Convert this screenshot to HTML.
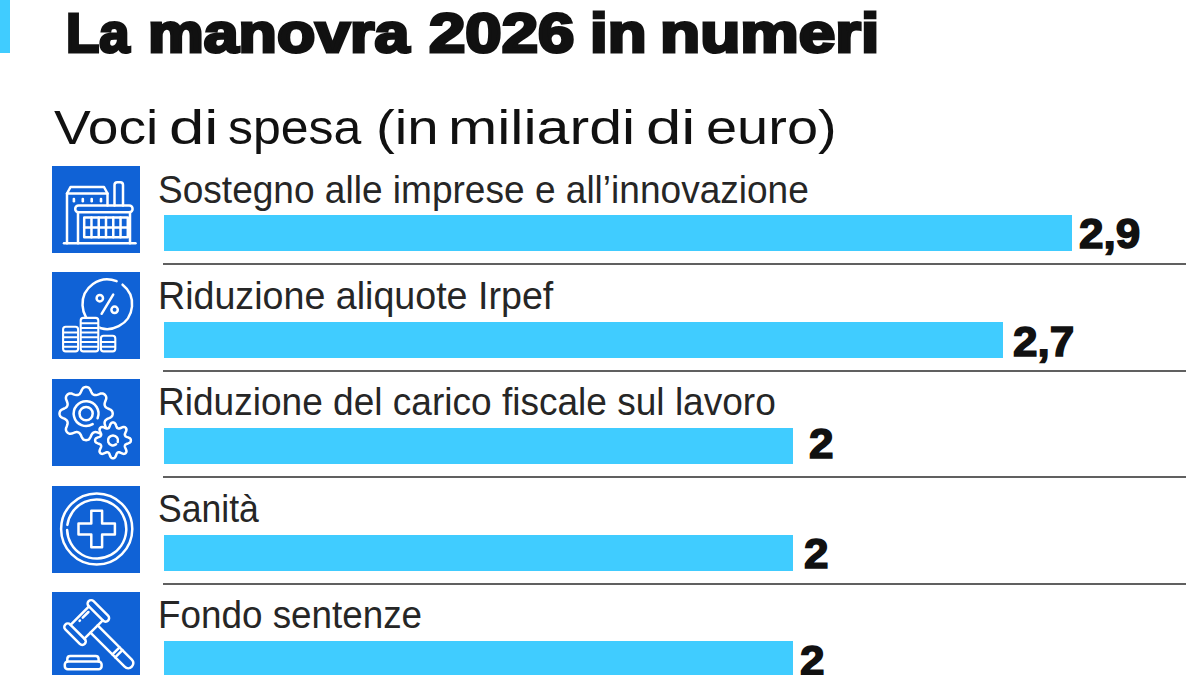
<!DOCTYPE html>
<html><head><meta charset="utf-8">
<style>
html,body{margin:0;padding:0;}
body{width:1200px;height:675px;overflow:hidden;background:#fff;position:relative;font-family:"Liberation Sans",sans-serif;}
.abs{position:absolute;}
#accent{left:0;top:0;width:10px;height:53px;background:#40ccff;}
.tw{font-size:55px;font-weight:bold;color:#111;white-space:nowrap;line-height:1;transform-origin:0 0;-webkit-text-stroke:3px #111;}
.sw{font-size:48.4px;color:#111;white-space:nowrap;line-height:1;transform-origin:0 0;-webkit-text-stroke:0px #111;}
.icon{left:52px;width:88px;height:87px;background:#1062d6;}
.icon svg{position:absolute;left:0;top:0;}
.lbl{left:158px;font-size:38px;color:#262626;white-space:nowrap;line-height:1;transform-origin:0 0;transform:scaleX(0.975);}
.bar{left:164px;height:36px;background:#40ccff;}
.num{font-size:42px;font-weight:bold;color:#111;white-space:nowrap;line-height:1;-webkit-text-stroke:1.5px #111;transform-origin:0 0;transform:scaleX(1.05);}
.rule{left:163px;width:1023px;height:2px;background:#606060;}
</style></head>
<body>
<div id="accent" class="abs"></div>
<div class="abs tw" style="left:65.72px;top:5.5px;transform:scaleX(0.9891)">La</div>
<div class="abs tw" style="left:147.72px;top:5.5px;transform:scaleX(1.1397)">manovra</div>
<div class="abs tw" style="left:429.00px;top:5.5px;transform:scaleX(1.1885)">2026</div>
<div class="abs tw" style="left:589.69px;top:5.5px;transform:scaleX(1.1556)">in</div>
<div class="abs tw" style="left:659.61px;top:5.5px;transform:scaleX(1.1955)">numeri</div>
<div class="abs sw" style="left:53.50px;top:102.5px;transform:scaleX(1.1398)">Voci</div>
<div class="abs sw" style="left:168.68px;top:102.5px;transform:scaleX(1.3125)">di</div>
<div class="abs sw" style="left:227.64px;top:102.5px;transform:scaleX(1.0323)">spesa</div>
<div class="abs sw" style="left:376.00px;top:102.5px;transform:scaleX(1.1660)">(in</div>
<div class="abs sw" style="left:448.14px;top:102.5px;transform:scaleX(1.2211)">miliardi</div>
<div class="abs sw" style="left:646.17px;top:102.5px;transform:scaleX(1.3125)">di</div>
<div class="abs sw" style="left:705.99px;top:102.5px;transform:scaleX(1.1565)">euro)</div>
<div class="abs icon" style="top:166px"><svg viewBox="0 0 88 87" width="88" height="87" fill="none" stroke="#fff" stroke-width="2.5" stroke-linecap="round" stroke-linejoin="round"><path d="M12,77.2 H83.5"/><path d="M15,77.2 V27.5 L18.5,21 H52 L55.5,27.5 V39.5"/><path d="M15,27.5 H55.5"/><rect x="20.6" y="31.8" width="2.6" height="4.6" rx="1.2" fill="#fff" stroke="none"/><rect x="29.5" y="31.8" width="2.6" height="4.6" rx="1.2" fill="#fff" stroke="none"/><rect x="38.4" y="31.8" width="2.6" height="4.6" rx="1.2" fill="#fff" stroke="none"/><rect x="47.7" y="31.8" width="2.6" height="4.6" rx="1.2" fill="#fff" stroke="none"/><path d="M62.5,39.5 V19 Q62.5,16.2 65.3,16.2 H68.3 Q71,16.2 71,19 V39.5"/><rect x="23.2" y="39.5" width="57.4" height="6.8" rx="3.4"/><path d="M26,46.3 V77.2 M78,46.3 V77.2"/><rect x="32.2" y="51.6" width="43.6" height="19.6"/><path d="M39.47,51.6 V71.2"/><path d="M46.73,51.6 V71.2"/><path d="M54.00,51.6 V71.2"/><path d="M61.27,51.6 V71.2"/><path d="M68.53,51.6 V71.2"/><path d="M32.2,61.4 H75.8"/></svg></div>
<div class="abs lbl" style="top:170.6px;transform:scaleX(0.975)">Sostegno alle imprese e all’innovazione</div>
<div class="abs bar" style="top:215px;width:908px"></div>
<div class="abs num" style="left:1079px;top:212.7px">2,9</div>
<div class="abs rule" style="top:263px"></div>
<div class="abs icon" style="top:272px"><svg viewBox="0 0 88 87" width="88" height="87" fill="none" stroke="#fff" stroke-width="2.5" stroke-linecap="round" stroke-linejoin="round"><path d="M70.57,12.66 A24.80,24.80 0 1 1 64.59,9.21"/><circle cx="47.8" cy="26.2" r="3.2"/><circle cx="62.6" cy="37.8" r="3.2"/><path d="M61.2,22.6 L49.6,41.8"/><rect x="47.90" y="62.80" width="16.40" height="17.60" rx="3" fill="#1062d6" stroke="none"/><rect x="48.90" y="63.80" width="14.40" height="15.60" rx="2.6" stroke-width="2.1"/><path d="M49.70,74.70 H62.50" stroke-width="2"/><path d="M49.70,70.00 H62.50" stroke-width="2"/><rect x="10.10" y="53.70" width="17.00" height="26.70" rx="3" fill="#1062d6" stroke="none"/><rect x="11.10" y="54.70" width="15.00" height="24.70" rx="2.6" stroke-width="2.1"/><path d="M11.90,74.70 H25.30" stroke-width="2"/><path d="M11.90,70.00 H25.30" stroke-width="2"/><path d="M11.90,65.30 H25.30" stroke-width="2"/><path d="M11.90,60.60 H25.30" stroke-width="2"/><rect x="27.70" y="44.90" width="19.60" height="35.50" rx="3" fill="#1062d6" stroke="none"/><rect x="28.70" y="45.90" width="17.60" height="33.50" rx="2.6" stroke-width="2.1"/><path d="M29.50,74.70 H45.50" stroke-width="2"/><path d="M29.50,70.00 H45.50" stroke-width="2"/><path d="M29.50,65.30 H45.50" stroke-width="2"/><path d="M29.50,60.60 H45.50" stroke-width="2"/><path d="M29.50,55.90 H45.50" stroke-width="2"/><path d="M29.50,51.20 H45.50" stroke-width="2"/></svg></div>
<div class="abs lbl" style="top:276.6px;transform:scaleX(0.99)">Riduzione aliquote Irpef</div>
<div class="abs bar" style="top:322px;width:839px"></div>
<div class="abs num" style="left:1013px;top:320.6px">2,7</div>
<div class="abs rule" style="top:370px"></div>
<div class="abs icon" style="top:379px"><svg viewBox="0 0 88 87" width="88" height="87" fill="none" stroke="#fff" stroke-width="2.5" stroke-linecap="round" stroke-linejoin="round"><path d="M60.7,34.6 L60.6,35.5 L60.4,36.3 L60.0,37.2 L59.3,37.9 L58.3,38.6 L57.1,39.2 L55.9,39.7 L54.9,40.2 L54.2,40.7 L53.6,41.2 L53.2,41.8 L52.9,42.4 L52.7,43.0 L52.6,43.7 L52.6,44.5 L52.8,45.4 L53.1,46.4 L53.6,47.7 L54.1,48.9 L54.3,50.1 L54.2,51.1 L53.9,52.0 L53.5,52.7 L52.9,53.4 L52.2,54.0 L51.5,54.4 L50.6,54.7 L49.6,54.8 L48.4,54.6 L47.2,54.1 L45.9,53.6 L44.9,53.3 L44.0,53.1 L43.2,53.1 L42.5,53.2 L41.9,53.4 L41.3,53.7 L40.7,54.1 L40.2,54.7 L39.7,55.4 L39.2,56.4 L38.7,57.6 L38.1,58.8 L37.4,59.8 L36.7,60.5 L35.8,60.9 L35.0,61.1 L34.1,61.2 L33.2,61.1 L32.4,60.9 L31.5,60.5 L30.8,59.8 L30.1,58.8 L29.5,57.6 L29.0,56.4 L28.5,55.4 L28.0,54.7 L27.5,54.1 L26.9,53.7 L26.3,53.4 L25.7,53.2 L25.0,53.1 L24.2,53.1 L23.3,53.3 L22.3,53.6 L21.0,54.1 L19.8,54.6 L18.6,54.8 L17.6,54.7 L16.7,54.4 L16.0,54.0 L15.3,53.4 L14.7,52.7 L14.3,52.0 L14.0,51.1 L13.9,50.1 L14.1,48.9 L14.6,47.7 L15.1,46.4 L15.4,45.4 L15.6,44.5 L15.6,43.7 L15.5,43.0 L15.3,42.4 L15.0,41.8 L14.6,41.2 L14.0,40.7 L13.3,40.2 L12.3,39.7 L11.1,39.2 L9.9,38.6 L8.9,37.9 L8.2,37.2 L7.8,36.3 L7.6,35.5 L7.5,34.6 L7.6,33.7 L7.8,32.9 L8.2,32.0 L8.9,31.3 L9.9,30.6 L11.1,30.0 L12.3,29.5 L13.3,29.0 L14.0,28.5 L14.6,28.0 L15.0,27.4 L15.3,26.8 L15.5,26.2 L15.6,25.5 L15.6,24.7 L15.4,23.8 L15.1,22.8 L14.6,21.5 L14.1,20.3 L13.9,19.1 L14.0,18.1 L14.3,17.2 L14.7,16.5 L15.3,15.8 L16.0,15.2 L16.7,14.8 L17.6,14.5 L18.6,14.4 L19.8,14.6 L21.0,15.1 L22.3,15.6 L23.3,15.9 L24.2,16.1 L25.0,16.1 L25.7,16.0 L26.3,15.8 L26.9,15.5 L27.5,15.1 L28.0,14.5 L28.5,13.8 L29.0,12.8 L29.5,11.6 L30.1,10.4 L30.8,9.4 L31.5,8.7 L32.4,8.3 L33.2,8.1 L34.1,8.0 L35.0,8.1 L35.8,8.3 L36.7,8.7 L37.4,9.4 L38.1,10.4 L38.7,11.6 L39.2,12.8 L39.7,13.8 L40.2,14.5 L40.7,15.1 L41.3,15.5 L41.9,15.8 L42.5,16.0 L43.2,16.1 L44.0,16.1 L44.9,15.9 L45.9,15.6 L47.2,15.1 L48.4,14.6 L49.6,14.4 L50.6,14.5 L51.5,14.8 L52.2,15.2 L52.9,15.8 L53.5,16.5 L53.9,17.2 L54.2,18.1 L54.3,19.1 L54.1,20.3 L53.6,21.5 L53.1,22.8 L52.8,23.8 L52.6,24.7 L52.6,25.5 L52.7,26.2 L52.9,26.8 L53.2,27.4 L53.6,28.0 L54.2,28.5 L54.9,29.0 L55.9,29.5 L57.1,30.0 L58.3,30.6 L59.3,31.3 L60.0,32.0 L60.4,32.9 L60.6,33.7 Z"/><path d="M40.67,45.12 A12.40,12.40 0 1 1 45.60,39.25"/><circle cx="34.1" cy="34.6" r="6.6"/><path d="M78.9,61.4 L78.8,62.0 L78.7,62.6 L78.3,63.1 L77.8,63.6 L77.0,64.0 L76.2,64.4 L75.3,64.7 L74.5,65.0 L73.9,65.3 L73.5,65.6 L73.2,66.0 L73.0,66.4 L72.9,66.8 L72.8,67.2 L72.9,67.8 L73.1,68.4 L73.4,69.1 L73.8,70.0 L74.2,70.9 L74.4,71.7 L74.5,72.4 L74.3,73.1 L74.0,73.6 L73.7,74.1 L73.2,74.4 L72.7,74.7 L72.0,74.9 L71.3,74.8 L70.5,74.6 L69.6,74.2 L68.7,73.8 L68.0,73.5 L67.4,73.3 L66.8,73.2 L66.4,73.3 L66.0,73.4 L65.6,73.6 L65.2,73.9 L64.9,74.3 L64.6,74.9 L64.3,75.7 L64.0,76.6 L63.6,77.4 L63.2,78.2 L62.7,78.7 L62.2,79.1 L61.6,79.2 L61.0,79.3 L60.4,79.2 L59.8,79.1 L59.3,78.7 L58.8,78.2 L58.4,77.4 L58.0,76.6 L57.7,75.7 L57.4,74.9 L57.1,74.3 L56.8,73.9 L56.4,73.6 L56.0,73.4 L55.6,73.3 L55.2,73.2 L54.6,73.3 L54.0,73.5 L53.3,73.8 L52.4,74.2 L51.5,74.6 L50.7,74.8 L50.0,74.9 L49.3,74.7 L48.8,74.4 L48.3,74.1 L48.0,73.6 L47.7,73.1 L47.5,72.4 L47.6,71.7 L47.8,70.9 L48.2,70.0 L48.6,69.1 L48.9,68.4 L49.1,67.8 L49.2,67.2 L49.1,66.8 L49.0,66.4 L48.8,66.0 L48.5,65.6 L48.1,65.3 L47.5,65.0 L46.7,64.7 L45.8,64.4 L45.0,64.0 L44.2,63.6 L43.7,63.1 L43.3,62.6 L43.2,62.0 L43.1,61.4 L43.2,60.8 L43.3,60.2 L43.7,59.7 L44.2,59.2 L45.0,58.8 L45.8,58.4 L46.7,58.1 L47.5,57.8 L48.1,57.5 L48.5,57.2 L48.8,56.8 L49.0,56.4 L49.1,56.0 L49.2,55.6 L49.1,55.0 L48.9,54.4 L48.6,53.7 L48.2,52.8 L47.8,51.9 L47.6,51.1 L47.5,50.4 L47.7,49.7 L48.0,49.2 L48.3,48.7 L48.8,48.4 L49.3,48.1 L50.0,47.9 L50.7,48.0 L51.5,48.2 L52.4,48.6 L53.3,49.0 L54.0,49.3 L54.6,49.5 L55.2,49.6 L55.6,49.5 L56.0,49.4 L56.4,49.2 L56.8,48.9 L57.1,48.5 L57.4,47.9 L57.7,47.1 L58.0,46.2 L58.4,45.4 L58.8,44.6 L59.3,44.1 L59.8,43.7 L60.4,43.6 L61.0,43.5 L61.6,43.6 L62.2,43.7 L62.7,44.1 L63.2,44.6 L63.6,45.4 L64.0,46.2 L64.3,47.1 L64.6,47.9 L64.9,48.5 L65.2,48.9 L65.6,49.2 L66.0,49.4 L66.4,49.5 L66.8,49.6 L67.4,49.5 L68.0,49.3 L68.7,49.0 L69.6,48.6 L70.5,48.2 L71.3,48.0 L72.0,47.9 L72.7,48.1 L73.2,48.4 L73.7,48.7 L74.0,49.2 L74.3,49.7 L74.5,50.4 L74.4,51.1 L74.2,51.9 L73.8,52.8 L73.4,53.7 L73.1,54.4 L72.9,55.0 L72.8,55.6 L72.9,56.0 L73.0,56.4 L73.2,56.8 L73.5,57.2 L73.9,57.5 L74.5,57.8 L75.3,58.1 L76.2,58.4 L77.0,58.8 L77.8,59.2 L78.3,59.7 L78.7,60.2 L78.8,60.8 Z" fill="#1062d6"/><path d="M64.08,65.34 A5.00,5.00 0 1 1 65.76,62.95"/></svg></div>
<div class="abs lbl" style="top:383.1px;transform:scaleX(0.975)">Riduzione del carico fiscale sul lavoro</div>
<div class="abs bar" style="top:428px;width:629px"></div>
<div class="abs num" style="left:808.6px;top:422.9px">2</div>
<div class="abs rule" style="top:476px"></div>
<div class="abs icon" style="top:486px"><svg viewBox="0 0 88 87" width="88" height="87" fill="none" stroke="#fff" stroke-width="2.5" stroke-linecap="round" stroke-linejoin="round"><circle cx="44.7" cy="43.0" r="35.6"/><path d="M15.39,38.88 A29.60,29.60 0 1 1 15.12,44.03"/><path d="M39.30,24.80 L50.10,24.80 L50.10,37.60 L62.90,37.60 L62.90,48.40 L50.10,48.40 L50.10,61.20 L39.30,61.20 L39.30,48.40 L26.50,48.40 L26.50,37.60 L39.30,37.60 Z"/></svg></div>
<div class="abs lbl" style="top:489.6px;transform:scaleX(0.936)">Sanità</div>
<div class="abs bar" style="top:535px;width:629px"></div>
<div class="abs num" style="left:803.7px;top:532.5px">2</div>
<div class="abs rule" style="top:583px"></div>
<div class="abs icon" style="top:592px"><svg viewBox="0 0 88 87" width="88" height="87" fill="none" stroke="#fff" stroke-width="2.5" stroke-linecap="round" stroke-linejoin="round"><g transform="translate(35.00 30.60) rotate(45)"><rect x="-14" y="-19.8" width="27.5" height="7" rx="3.5"/><rect x="-14" y="13.2" width="27.5" height="7" rx="3.5"/><path d="M-10,-12.8 V13.2 M9.5,-12.8 V13.2"/><path d="M-6.5,-8.5 V-0.5 M-6.5,3.5 V4"/><path d="M9.5,-5.6 H57.8 A5.1,5.1 0 0 1 57.8,4.6 H9.5"/><path d="M40.5,-5.6 V4.6 M44.5,-5.6 V4.6"/></g><path d="M15.3,69.5 V67 Q15.3,64 18.3,64 H43.6 Q46.6,64 46.6,67 V69.5"/><rect x="12.8" y="69.5" width="36.8" height="7.8" rx="3"/></svg></div>
<div class="abs lbl" style="top:595.6px;transform:scaleX(0.969)">Fondo sentenze</div>
<div class="abs bar" style="top:641px;width:629px"></div>
<div class="abs num" style="left:799.7px;top:640px">2</div>
</body></html>
